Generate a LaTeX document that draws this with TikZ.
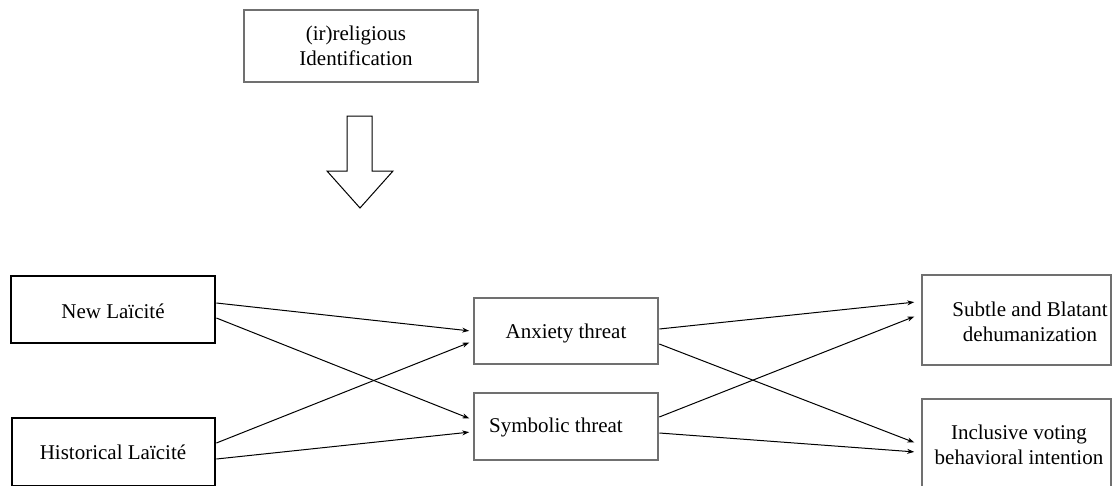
\documentclass[tikz,border=0pt]{standalone}
\usepackage{fontspec}
\setmainfont{Liberation Serif}
\usetikzlibrary{arrows.meta}
\definecolor{boxgrey}{RGB}{112,112,112}
\begin{document}
\begin{tikzpicture}[x=1pt,y=-1pt,
  greybox/.style={draw=boxgrey,line width=2.6pt,inner sep=0pt},
  blackbox/.style={draw=black,line width=2.8pt,inner sep=0pt},
  label/.style={font=\fontsize{21}{25}\selectfont,align=center,inner sep=0pt},
  link/.style={line width=1pt,-{Stealth[length=7pt,width=5pt]},shorten >=1.5pt}]
\useasboundingbox (0,0) rectangle (1114,485);

% moderator box and block arrow
\node[greybox,minimum width=234pt,minimum height=72pt] (rel) at (361,46) {};
\node[label] (relt) at (356,46) {(ir)religious\\Identification};
\draw[line width=1pt,line join=miter] (347,116) -- (372,116) -- (372,171) -- (393,171)
  -- (360,208) -- (327,171) -- (347,171) -- cycle;

% predictors
\node[blackbox,minimum width=204pt,minimum height=67pt] (nl) at (113,309.5) {};
\node[label] (nlt) at (113,311) {New Laïcité};
\node[blackbox,minimum width=203pt,minimum height=68pt] (hl) at (113.5,452) {};
\node[label] (hlt) at (113,452) {Historical Laïcité};

% mediators
\node[greybox,minimum width=184pt,minimum height=66pt] (ax) at (566,331) {};
\node[label] (axt) at (566,333) {Anxiety threat};
\node[greybox,minimum width=184pt,minimum height=67pt] (sy) at (566,426.5) {};
\node[label] (syt) at (556,427) {Symbolic threat};

% outcomes
\node[greybox,minimum width=189pt,minimum height=90pt] (sb) at (1016.5,320) {};
\node[label] (sbt) at (1030,322) {Subtle and Blatant\\dehumanization};
\node[greybox,minimum width=189pt,minimum height=91pt] (iv) at (1016.5,444.5) {};
\node[label] (ivt) at (1019,445) {Inclusive voting\\behavioral intention};

% paths (anchor shifts are in page direction: positive is upward)
\draw[link] ([yshift=6.5pt]nl.east) -- ([yshift=0pt,xshift=-2pt]ax.west);
\draw[link] ([yshift=-8.5pt]nl.east) -- ([yshift=7.5pt,xshift=-2pt]sy.west);
\draw[link] ([yshift=9pt]hl.east) -- ([yshift=-11pt,xshift=-2pt]ax.west);
\draw[link] ([yshift=-7pt]hl.east) -- ([yshift=-5.5pt,xshift=-2pt]sy.west);

\draw[link] ([yshift=2pt]ax.east) -- ([yshift=18pt,xshift=-5pt]sb.west);
\draw[link] ([yshift=-13pt]ax.east) -- ([yshift=1.5pt,xshift=-5pt]iv.west);
\draw[link] ([yshift=9.5pt]sy.east) -- ([yshift=4pt,xshift=-5pt]sb.west);
\draw[link] ([yshift=-6.5pt]sy.east) -- ([yshift=-7.5pt,xshift=-5pt]iv.west);
\end{tikzpicture}
\end{document}
